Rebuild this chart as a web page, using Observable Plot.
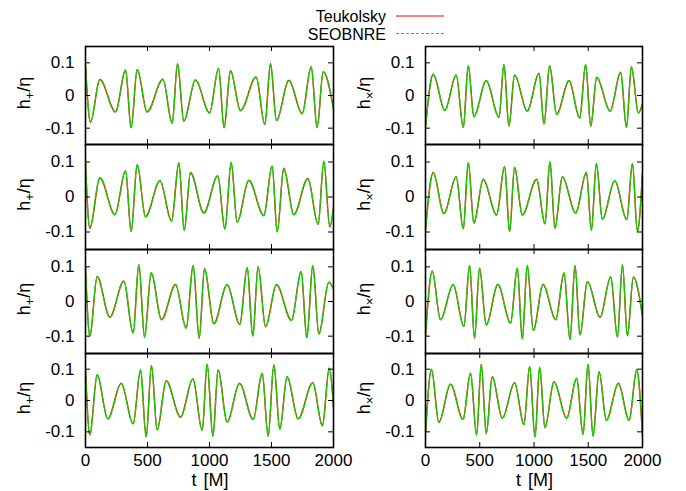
<!DOCTYPE html>
<html><head><meta charset="utf-8">
<script src="https://cdn.jsdelivr.net/npm/d3@7"></script>
<script src="https://cdn.jsdelivr.net/npm/@observablehq/plot@0.6"></script>
<style>
body{margin:0;background:#fff;}
#chart{position:relative;width:686px;height:491px;font-family:"Liberation Sans",Arial,Helvetica,sans-serif;}
#chart svg{position:absolute;overflow:visible;}
</style></head><body><div id="chart"></div>
<script>
// ---- data ----
const seriesNames = ["Teukolsky", "SEOBNRE"];
const tTicks = [0, 500, 1000, 1500, 2000];
const yTicks = [-0.1, 0, 0.1];
const xLabel = "t [M]";
const compNames = ["+", "×"];

// h+ row 1
const p1t = [0,40,116,242,323,368,417,497,624,699,742,793,887,1000,1073,1118,1169,1250,1376,1446,1492,1540,1640,1747,1820,1868,1917,2000];
const p1teuk = [0.092,-0.082,0.049,-0.050,0.078,-0.099,0.080,-0.050,0.050,-0.085,0.097,-0.079,0.047,-0.053,0.083,-0.099,0.076,-0.046,0.057,-0.089,0.098,-0.077,0.046,-0.055,0.088,-0.099,0.073,-0.040];
const p1seob = [0.090,-0.080,0.049,-0.051,0.077,-0.097,0.079,-0.051,0.049,-0.084,0.095,-0.078,0.048,-0.054,0.082,-0.097,0.075,-0.047,0.056,-0.088,0.096,-0.076,0.047,-0.056,0.087,-0.097,0.072,-0.042];
// h+ row 2
const p2t = [0,35,116,237,323,368,417,484,600,694,753,796,847,954,1067,1124,1175,1223,1317,1438,1505,1546,1599,1680,1793,1876,1922,1970,2000];
const p2teuk = [0.095,-0.090,0.055,-0.050,0.075,-0.099,0.093,-0.056,0.046,-0.068,0.098,-0.096,0.070,-0.045,0.061,-0.092,0.099,-0.072,0.047,-0.053,0.089,-0.100,0.082,-0.050,0.053,-0.078,0.102,-0.086,-0.030];
const p2seob = [0.093,-0.088,0.055,-0.051,0.074,-0.097,0.091,-0.057,0.047,-0.069,0.096,-0.094,0.069,-0.046,0.060,-0.090,0.097,-0.071,0.048,-0.054,0.088,-0.098,0.080,-0.051,0.052,-0.077,0.100,-0.085,-0.032];
// h+ row 3
const p3t = [0,35,94,196,309,384,430,476,530,613,726,812,868,917,960,1035,1142,1244,1304,1349,1392,1452,1540,1661,1739,1785,1833,1882,1962,2000];
const p3teuk = [0.100,-0.100,0.072,-0.045,0.059,-0.091,0.107,-0.103,0.083,-0.052,0.049,-0.077,0.104,-0.106,0.095,-0.064,0.048,-0.066,0.098,-0.100,0.101,-0.073,0.048,-0.054,0.087,-0.105,0.104,-0.094,0.056,0.037];
const p3seob = [0.098,-0.098,0.071,-0.046,0.058,-0.090,0.105,-0.101,0.082,-0.053,0.048,-0.076,0.102,-0.104,0.093,-0.065,0.049,-0.067,0.096,-0.098,0.099,-0.072,0.049,-0.055,0.086,-0.103,0.102,-0.093,0.055,0.036];
// h+ row 4
const p4t = [0,35,94,180,288,384,444,489,532,578,651,766,866,941,981,1027,1070,1142,1242,1352,1425,1473,1519,1567,1626,1715,1833,1910,1966,2000];
const p4teuk = [0.100,-0.110,0.082,-0.058,0.055,-0.074,0.098,-0.117,0.112,-0.094,0.063,-0.053,0.069,-0.096,0.116,-0.114,0.098,-0.069,0.055,-0.060,0.087,-0.114,0.114,-0.092,0.076,-0.058,0.057,-0.081,0.104,-0.020];
const p4seob = [0.098,-0.108,0.081,-0.059,0.054,-0.075,0.096,-0.115,0.110,-0.093,0.062,-0.054,0.068,-0.094,0.114,-0.112,0.097,-0.070,0.054,-0.061,0.086,-0.112,0.112,-0.091,0.075,-0.059,0.056,-0.080,0.102,-0.022];
// hx row 1
const p5t = [0,71,178,283,348,394,446,560,677,723,769,821,938,1046,1092,1144,1209,1323,1421,1476,1523,1578,1701,1799,1852,1898,1962,2000];
const p5teuk = [-0.096,0.065,-0.045,0.063,-0.098,0.091,-0.064,0.045,-0.066,0.095,-0.094,0.063,-0.047,0.068,-0.088,0.091,-0.057,0.045,-0.068,0.095,-0.094,0.055,-0.047,0.071,-0.098,0.088,-0.053,-0.025];
const p5seob = [-0.094,0.064,-0.046,0.062,-0.096,0.089,-0.065,0.046,-0.067,0.093,-0.092,0.062,-0.048,0.067,-0.086,0.089,-0.058,0.046,-0.069,0.093,-0.092,0.056,-0.048,0.070,-0.096,0.086,-0.054,-0.027];
// hx row 2
const p6t = [0,71,169,283,348,394,446,532,655,729,775,821,892,1024,1101,1147,1193,1261,1384,1483,1529,1575,1630,1744,1855,1907,1953,2000];
const p6teuk = [-0.096,0.070,-0.047,0.058,-0.091,0.099,-0.075,0.050,-0.051,0.087,-0.099,0.085,-0.051,0.050,-0.077,0.101,-0.090,0.058,-0.045,0.070,-0.096,0.096,-0.064,0.046,-0.064,0.096,-0.099,0.070];
const p6seob = [-0.094,0.069,-0.048,0.057,-0.090,0.097,-0.074,0.051,-0.052,0.086,-0.097,0.084,-0.052,0.051,-0.076,0.099,-0.088,0.057,-0.046,0.069,-0.094,0.094,-0.063,0.047,-0.065,0.094,-0.097,0.068];
// hx row 3
const p7t = [0,62,138,255,354,406,452,498,560,667,784,846,892,938,994,1083,1200,1277,1332,1378,1424,1492,1609,1707,1769,1815,1861,1916,2000];
const p7teuk = [-0.099,0.088,-0.052,0.048,-0.072,0.104,-0.106,0.097,-0.067,0.049,-0.062,0.097,-0.108,0.104,-0.084,0.049,-0.052,0.083,-0.110,0.104,-0.097,0.058,-0.045,0.071,-0.103,0.106,-0.099,0.071,-0.041];
const p7seob = [-0.097,0.086,-0.053,0.049,-0.071,0.102,-0.104,0.095,-0.068,0.050,-0.063,0.095,-0.106,0.102,-0.083,0.050,-0.053,0.082,-0.108,0.102,-0.096,0.057,-0.046,0.070,-0.101,0.104,-0.097,0.070,-0.043];
// hx row 4
const p8t = [0,55,123,231,345,415,471,514,560,615,708,821,907,960,1009,1052,1101,1184,1301,1393,1452,1498,1544,1600,1667,1778,1876,1947,2000];
const p8teuk = [-0.106,0.100,-0.069,0.052,-0.060,0.087,-0.110,0.116,-0.106,0.076,-0.056,0.057,-0.077,0.109,-0.117,0.106,-0.087,0.060,-0.056,0.071,-0.109,0.116,-0.114,0.092,-0.063,0.055,-0.063,0.098,-0.114];
const p8seob = [-0.104,0.098,-0.070,0.053,-0.061,0.086,-0.108,0.114,-0.104,0.075,-0.057,0.056,-0.076,0.107,-0.115,0.104,-0.086,0.059,-0.057,0.070,-0.107,0.114,-0.112,0.091,-0.064,0.054,-0.064,0.096,-0.112];

// ---- layout / style ----
const FONT = '"Liberation Sans", Arial, Helvetica, sans-serif';
const RED = "#ff0000", GREEN = "#00dd00";
const cols = [{x0: 85, x1: 333}, {x0: 425, x1: 642}];
const rows = [{y0: 46, y1: 144}, {y0: 144, y1: 249}, {y0: 249, y1: 353}, {y0: 353, y1: 447}];
const ML = 64, MR = 26, MT = 4;

const panels = [
  [p1t, p1teuk, p1seob, 0, 0], [p2t, p2teuk, p2seob, 0, 1], [p3t, p3teuk, p3seob, 0, 2], [p4t, p4teuk, p4seob, 0, 3],
  [p5t, p5teuk, p5seob, 1, 0], [p6t, p6teuk, p6seob, 1, 1], [p7t, p7teuk, p7seob, 1, 2], [p8t, p8teuk, p8seob, 1, 3]
];

const chart = document.getElementById("chart");

for (const [t, a, b, c, r] of panels) {
  const W = cols[c].x1 - cols[c].x0;
  const H = rows[r].y1 - rows[r].y0;
  const last = r === 3;
  const MB = last ? 30 : 4;
  const dA = t.map((d, i) => ({t: d, v: a[i], s: seriesNames[0]}));
  const dB = t.map((d, i) => ({t: d, v: b[i], s: seriesNames[1]}));
  const svg = Plot.plot({
    width: W + ML + MR, height: H + MT + MB,
    marginLeft: ML, marginRight: MR, marginTop: MT, marginBottom: MB,
    style: {fontSize: "17px", fontFamily: FONT, color: "#000", background: "transparent", overflow: "visible"},
    x: {domain: [0, 2000], axis: null},
    y: {domain: [-0.15, 0.15], axis: null},
    marks: [
      Plot.line(dA, {x: "t", y: "v", curve: "monotone-x", stroke: RED, strokeWidth: 1.4, clip: true}),
      Plot.line(dB, {x: "t", y: "v", curve: "monotone-x", stroke: GREEN, strokeWidth: 1.4, strokeDasharray: "3.5,2", clip: true}),
      Plot.tickY(yTicks, {y: d => d, insetRight: W - 5, strokeWidth: 1}),
      Plot.tickY(yTicks, {y: d => d, insetLeft: W - 5, strokeWidth: 1}),
      Plot.tickX(tTicks, {x: d => d, insetTop: H - 5, strokeWidth: 1}),
      Plot.tickX(tTicks, {x: d => d, insetBottom: H - 5, strokeWidth: 1}),
      Plot.axisY(yTicks, {tickSize: 0, tickPadding: 11, tickFormat: d => String(d), label: null, fontSize: 17}),
      last ? Plot.axisX(tTicks, {tickSize: 0, tickPadding: 6, tickFormat: d => String(d), label: null, fontSize: 17}) : null,
      Plot.frame({strokeWidth: 1.6})
    ]
  });
  svg.style.left = (cols[c].x0 - ML) + "px";
  svg.style.top = (rows[r].y0 - MT) + "px";
  chart.appendChild(svg);
}

// overlay: axis titles and legend
const ov = d3.select(chart).append("svg")
  .attr("width", 686).attr("height", 491)
  .style("left", "0px").style("top", "0px")
  .attr("font-family", FONT).attr("font-size", 17).attr("fill", "#000");

const yLabX = [30, 370];
for (let c = 0; c < 2; c++) {
  for (let r = 0; r < 4; r++) {
    const cy = (rows[r].y0 + rows[r].y1) / 2 - 2;
    const tx = ov.append("text")
      .attr("transform", `translate(${yLabX[c]},${cy}) rotate(-90)`)
      .attr("text-anchor", "middle").attr("font-size", 18);
    tx.append("tspan").text("h");
    tx.append("tspan").attr("font-size", 13).attr("dy", 4).text(compNames[c]);
    tx.append("tspan").attr("dy", -4).text("/η");
  }
  ov.append("text")
    .attr("x", (cols[c].x0 + cols[c].x1) / 2 + 1)
    .attr("y", 486)
    .attr("text-anchor", "middle")
    .attr("font-size", 18)
    .attr("word-spacing", 2)
    .text(xLabel);
}

const legY = [16, 33.5];
const legStyle = [{stroke: RED, dash: null}, {stroke: GREEN, dash: "3,2"}];
seriesNames.forEach((name, i) => {
  ov.append("text").attr("x", 386).attr("y", legY[i] + 6).attr("text-anchor", "end").attr("font-size", 16).text(name);
  ov.append("line").attr("x1", 396).attr("x2", 444).attr("y1", legY[i]).attr("y2", legY[i])
    .attr("stroke", legStyle[i].stroke).attr("stroke-width", 1.2)
    .attr("stroke-dasharray", legStyle[i].dash);
});
</script>
</body></html>
